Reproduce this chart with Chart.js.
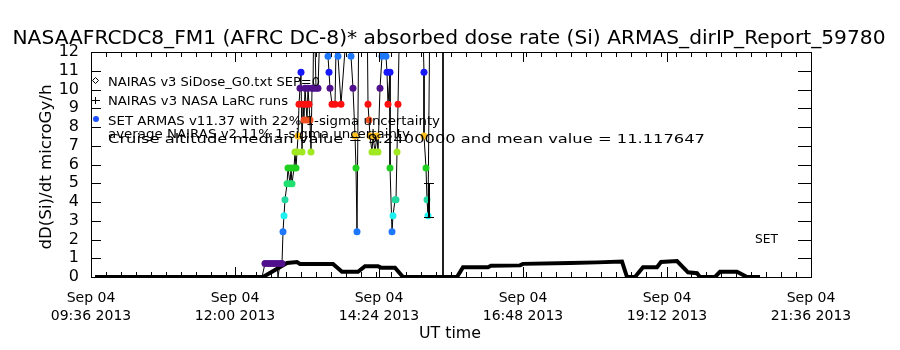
<!DOCTYPE html>
<html><head><meta charset="utf-8">
<script src="https://cdn.jsdelivr.net/npm/chart.js@4/dist/chart.umd.min.js"></script>
<style>html,body{margin:0;padding:0;background:#fff}#wrap{position:relative;width:900px;height:350px}canvas{display:block;position:absolute;left:0;top:0}</style>
</head><body>
<div id="wrap"><canvas id="c" width="900" height="350"></canvas><canvas id="ov" width="900" height="350" style="pointer-events:none"></canvas></div>
<script>
// ---------------- data ----------------
const titleText = "NASAAFRCDC8_FM1 (AFRC DC-8)* absorbed dose rate (Si) ARMAS_dirIP_Report_59780";
const yAxisTitle = "dD(Si)/dt microGy/h";
const xAxisTitle = "UT time";
const xTickDate = "Sep 04";
const xTickYear = "2013";
const legendLabels = [
  "NAIRAS v3 SiDose_G0.txt SEP=0",
  "NAIRAS v3 NASA LaRC runs",
  "SET ARMAS v11.37 with 22% 1-sigma uncertainty",
  "average NAIRAS v2 11% 1-sigma uncertainty",
  "Cruise altitude median value = 9.2400000 and mean value = 11.117647"
];
const cornerNote = "SET";

// NAIRAS v3 model, minutes of day (UT) and dose rate
const nairasMinute = [580,748,772,782,785,818,827,843,850,863,866,880,888,942,948,973,976,1005,1008,1055,1082,1107,1112,1120,1128,1142,1146,1162,1173,1182,1185,1200,1205,1222,1232,1245];
const nairasDose   = [0,0,0.75,0.8,0.7,0.7,0.28,0.28,0.58,0.58,0.5,0.5,0,0,0.52,0.52,0.6,0.62,0.7,0.75,0.78,0.82,0,0,0.52,0.52,0.8,0.85,0.25,0.2,0,0,0.28,0.28,0,0];

// ARMAS measured dose rate (quantised), minutes of day (UT)
const armasMinute = [747,750,753,756,759,762,763,765,767,768,769,770,772,773,775,776,777,779,780,781,782,783,784,785,786,787,788,789,790,791,792,793,794,795,796,797,798,799,801,803,806,810,813,814,815,817,820,822,823,826,834,836,838,840,841,842,844,852,853,854,855,857,858,860,862,863,865,867,869,871,872,873,875,875,877,878,880,881,882,883,885,907,909,909,911,912,913,915,928,928];
const armasDose   = [0,0.72,0.72,0.72,0.72,0.72,0,0.72,0.72,2.42,3.27,4.12,4.97,5.82,4.97,5.82,4.97,5.82,6.67,5.82,6.67,7.52,9.22,10.07,10.92,6.67,9.22,8.37,10.07,9.22,8.37,10.07,9.22,8.37,6.67,10.07,10.07,15,10.07,10.07,15,15,11.77,10.92,10.07,9.22,9.22,15,11.77,9.22,15,11.77,10.07,7.52,5.82,2.42,15,15,9.22,8.37,7.52,6.67,7.52,6.67,7.52,6.67,10.07,11.77,15,11.77,10.92,9.22,10.92,5.82,2.42,3.27,4.12,4.12,6.67,9.22,15,15,10.92,7.52,5.82,4.12,3.27,15,15,0];
const errMinute = [913];
const errLow = [3.2];
const errHigh = [5.0];

const levelValues = [0.72,1.57,2.42,3.27,4.12,4.97,5.82,6.67,7.52,8.37,9.22,10.07,10.92,11.77];
const levelColors = ["#50108c","#1818ff","#1e78ff","#20f0f0","#20d8a0","#20e070","#20d020","#a0e820","#ffc020","#f05020","#ff1010","#50108c","#1818ff","#1e78ff"];

const yTicks = [0,1,2,3,4,5,6,7,8,9,10,11,12];
const xMajorStep = 144, xMinorStep = 15;
const xMin = 576, xMax = 1296;

// ---------------- chart ----------------
const FONT = "DejaVu Sans";
function clock(m){const h=Math.floor(m/60), mm=Math.round(m%60);return String(h).padStart(2,'0')+':'+String(mm).padStart(2,'0');}
function levelColor(v){let best=-1,bd=1e9;levelValues.forEach((l,i)=>{const d=Math.abs(l-v);if(d<bd){bd=d;best=i;}});return bd<0.3?levelColors[best]:'rgba(0,0,0,0)';}

const nairasData = nairasMinute.map((m,i)=>({x:m,y:nairasDose[i]}));
const armasData = armasMinute.map((m,i)=>({x:m,y:armasDose[i]}));

// draw text stretched horizontally to a target width
function drawFitted(ctx, text, x, y, size, targetW, align){
  ctx.save();
  ctx.font = `${size}px "${FONT}"`;
  ctx.textAlign = 'left';
  const w = ctx.measureText(text).width;
  const x0 = align === 'center' ? x - targetW/2 : x;
  ctx.translate(x0, y);
  ctx.scale(targetW / w, 1);
  ctx.fillText(text, 0, 0);
  ctx.restore();
}

function drawFrame(ctx, x, y){
  const L = Math.round(x.getPixelForValue(xMin)), R = Math.round(x.getPixelForValue(xMax));
  const T = Math.round(y.getPixelForValue(12)), B = Math.round(y.getPixelForValue(0));
  ctx.save();
  ctx.fillStyle = '#000';
  ctx.fillRect(L, T, R-L+1, 1);
  ctx.fillRect(L, B, R-L+1, 1);
  ctx.fillRect(L, T, 1, B-T+1);
  ctx.fillRect(R, T, 1, B-T+1);
  yTicks.forEach(v=>{
    const py = Math.round(y.getPixelForValue(v));
    ctx.fillRect(L, py, 10, 1);
    ctx.fillRect(R-13, py, 13, 1);
  });
  for(let m=xMin;m<=xMax;m+=xMinorStep){
    const px = Math.round(x.getPixelForValue(m));
    ctx.fillRect(px, B-5, 1, 5);
    ctx.fillRect(px, T, 1, 5);
  }
  for(let m=xMin;m<=xMax;m+=xMajorStep){
    const px = Math.round(x.getPixelForValue(m));
    ctx.fillRect(px, B-10, 1, 10);
    ctx.fillRect(px, T, 1, 10);
  }
  ctx.restore();
}

const decor = {
  id:'decor',
  afterDraw(chart){
    const ctx = chart.ctx, x = chart.scales.x, y = chart.scales.y;
    ctx.save();
    ctx.fillStyle = '#000';
    // error bar
    errMinute.forEach((m,i)=>{
      const px = Math.round(x.getPixelForValue(m));
      const p1 = Math.round(y.getPixelForValue(errLow[i])), p2 = Math.round(y.getPixelForValue(errHigh[i]));
      ctx.fillRect(px, p2, 2, p1-p2);
      ctx.fillRect(px-4, p1, 10, 1);
      ctx.fillRect(px-4, p2, 10, 1);
    });
    ctx.textBaseline='alphabetic';
    drawFitted(ctx, titleText, 449, 44, 19, 873, 'center');
    const rows=[86,105,125,138,143];
    const widths=[212,180,332,302,597];
    legendLabels.forEach((t,i)=>drawFitted(ctx,t,108,rows[i],13,widths[i],'left'));
    ctx.strokeStyle='#000'; ctx.lineWidth=1;
    ctx.beginPath();ctx.moveTo(95.5,77.5);ctx.lineTo(98.5,80.5);ctx.lineTo(95.5,83.5);ctx.lineTo(92.5,80.5);ctx.closePath();ctx.stroke();
    ctx.fillRect(92,100,8,1); ctx.fillRect(95,97,1,7);
    ctx.fillStyle='#1e50ff';ctx.beginPath();ctx.arc(96,119,3,0,Math.PI*2);ctx.fill();
    ctx.fillStyle='#000';
    drawFitted(ctx, cornerNote, 755, 243, 13, 23, 'left');
    drawFitted(ctx, xAxisTitle, 450, 338, 15, 62, 'center');
    ctx.save();ctx.translate(51,167);ctx.rotate(-Math.PI/2);drawFitted(ctx,yAxisTitle,0,0,16,165,'center');ctx.restore();
    ctx.restore();
    drawFrame(ctx, x, y);
  }
};

const chart = new Chart(document.getElementById('c'), {
  type:'line',
  data:{datasets:[
    {label:legendLabels[2], data:armasData, borderColor:'#000', borderWidth:1, pointRadius:ctx=>{const v=ctx.raw&&ctx.raw.y;return levelColor(v)==='rgba(0,0,0,0)'?0:3.5;}, pointBackgroundColor:ctx=>levelColor(ctx.raw?ctx.raw.y:0), pointBorderWidth:0, tension:0, order:1},
    {label:legendLabels[0], data:nairasData, borderColor:'#000', borderWidth:4, pointRadius:0, tension:0, order:2}
  ]},
  options:{
    responsive:false, animation:false, devicePixelRatio:1,
    layout:{padding:0},
    plugins:{legend:{display:false}, tooltip:{enabled:false}, title:{display:false}},
    scales:{
      x:{type:'linear', position:'bottom', min:xMin, max:xMax,
        afterFit:s=>{s.height=73;},
        grid:{display:false}, border:{display:true,color:'#000',width:1},
        ticks:{stepSize:xMajorStep, color:'#000', padding:4, maxRotation:0, autoSkip:false,
          font:{family:FONT, size:14, lineHeight:1.3},
          callback:v=>[xTickDate, clock(v)+' '+xTickYear]}},
      xTop:{type:'linear', position:'top', min:xMin, max:xMax, afterFit:s=>{s.height=52;},
        grid:{display:false}, border:{display:true,color:'#000',width:1}, ticks:{display:false}},
      y:{type:'linear', position:'left', min:0, max:12,
        afterFit:s=>{s.width=91;},
        grid:{display:false}, border:{display:true,color:'#000',width:1},
        ticks:{stepSize:1, autoSkip:false, color:'#000', padding:4, font:{family:FONT, size:16}}},
      yRight:{type:'linear', position:'right', min:0, max:12, afterFit:s=>{s.width=89;},
        grid:{display:false}, border:{display:true,color:'#000',width:1}, ticks:{display:false}}
    }
  },
  plugins:[decor]
});
// overlay: frame and inward ticks, positioned through the chart's own scales
drawFrame(document.getElementById('ov').getContext('2d'), chart.scales.x, chart.scales.y);
</script>
</body></html>
